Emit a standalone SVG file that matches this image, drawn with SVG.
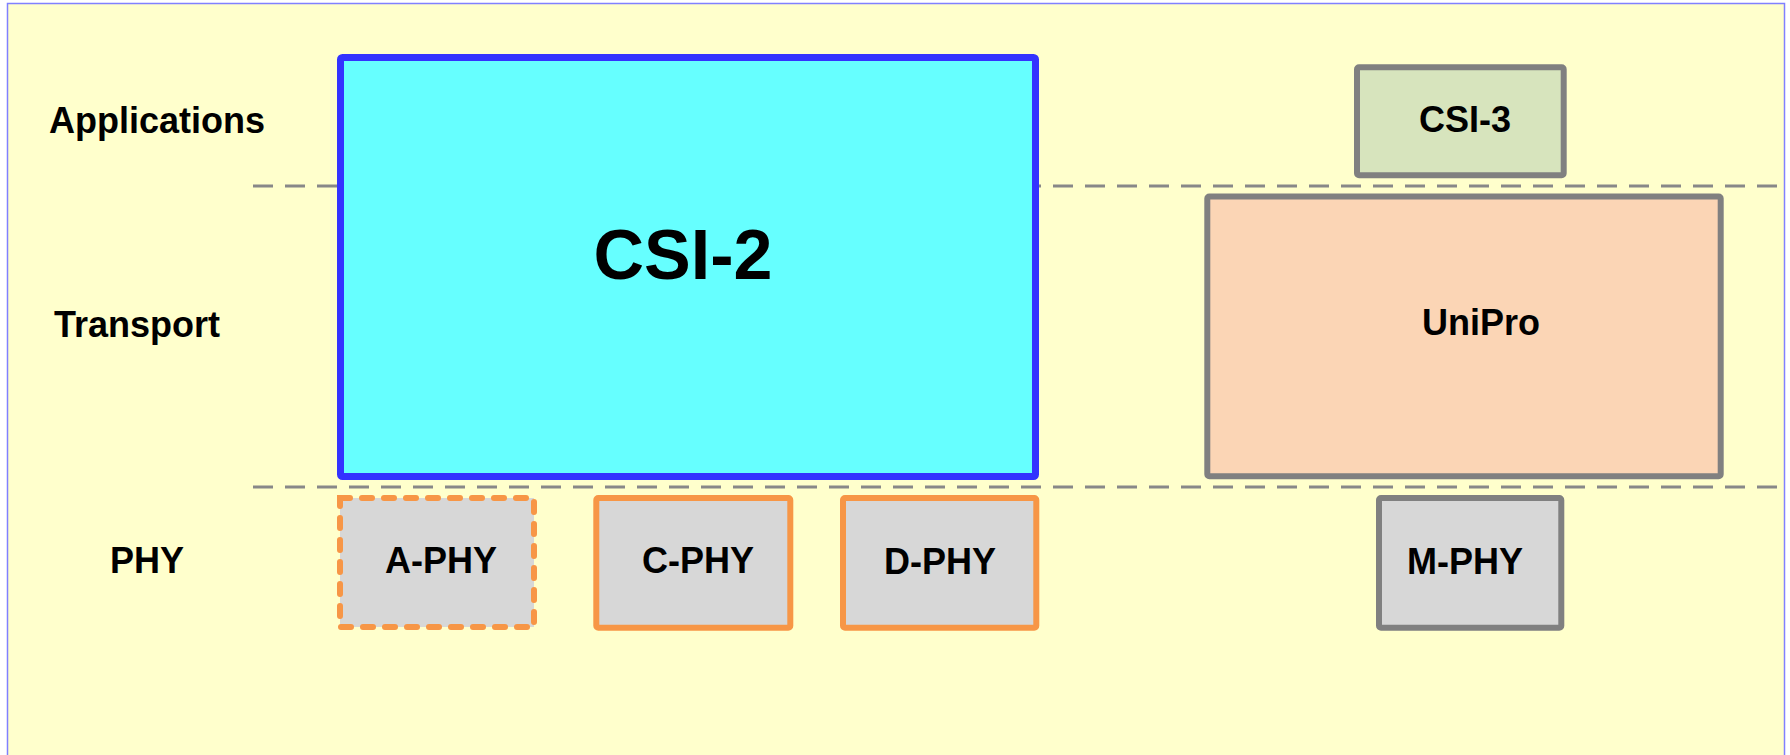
<svg xmlns="http://www.w3.org/2000/svg" width="1790" height="755" viewBox="0 0 1790 755">
<style>
text{font-family:"Liberation Sans",Arial,sans-serif;font-weight:bold;fill:#000;text-anchor:middle}
.lbl{font-size:36px}
.sep{stroke:#888;stroke-width:3;stroke-dasharray:20 12;fill:none}
.phy{fill:#D7D7D7;stroke:#F79646;stroke-width:6}
.gray{stroke:#808080;stroke-width:6}
</style>
<rect x="7.5" y="3.5" width="1777" height="800" fill="#FFFFCC" stroke="#8080FF" stroke-width="1.5"/>
<g id="connectors">
<line class="sep" x1="253" y1="186" x2="1785" y2="186"/>
<line class="sep" x1="253" y1="487" x2="1785" y2="487"/>
</g>
<g id="layer-labels">
<text class="lbl" x="157" y="133">Applications</text>
<text class="lbl" x="137" y="337">Transport</text>
<text class="lbl" x="147" y="573">PHY</text>
</g>
<g id="csi2">
<rect x="340.5" y="57.5" width="695" height="419" rx="2" fill="#66FFFF" stroke="#3333FF" stroke-width="7"/>
<text x="683" y="279" font-size="70">CSI-2</text>
</g>
<g id="csi3">
<rect class="gray" x="1357" y="67.3" width="206.7" height="108" rx="2" fill="#D7E4BD"/>
<text class="lbl" x="1465" y="132">CSI-3</text>
</g>
<g id="unipro">
<rect class="gray" x="1207.3" y="196.6" width="513.4" height="279.7" rx="2" fill="#FBD5B5"/>
<text class="lbl" x="1481" y="335">UniPro</text>
</g>
<g id="aphy">
<rect class="phy" x="340" y="498" width="194" height="129" stroke-dasharray="10 12" stroke-linecap="round"/>
<text class="lbl" x="441" y="573">A-PHY</text>
</g>
<g id="cphy">
<rect class="phy" x="596.3" y="498" width="194" height="129.7" rx="2"/>
<text class="lbl" x="698" y="573">C-PHY</text>
</g>
<g id="dphy">
<rect class="phy" x="843" y="498" width="193.3" height="129.7" rx="2"/>
<text class="lbl" x="940" y="574">D-PHY</text>
</g>
<g id="mphy">
<rect class="gray" x="1379" y="498" width="182.3" height="129.7" rx="2" fill="#D7D7D7"/>
<text class="lbl" x="1465" y="574">M-PHY</text>
</g>
</svg>
